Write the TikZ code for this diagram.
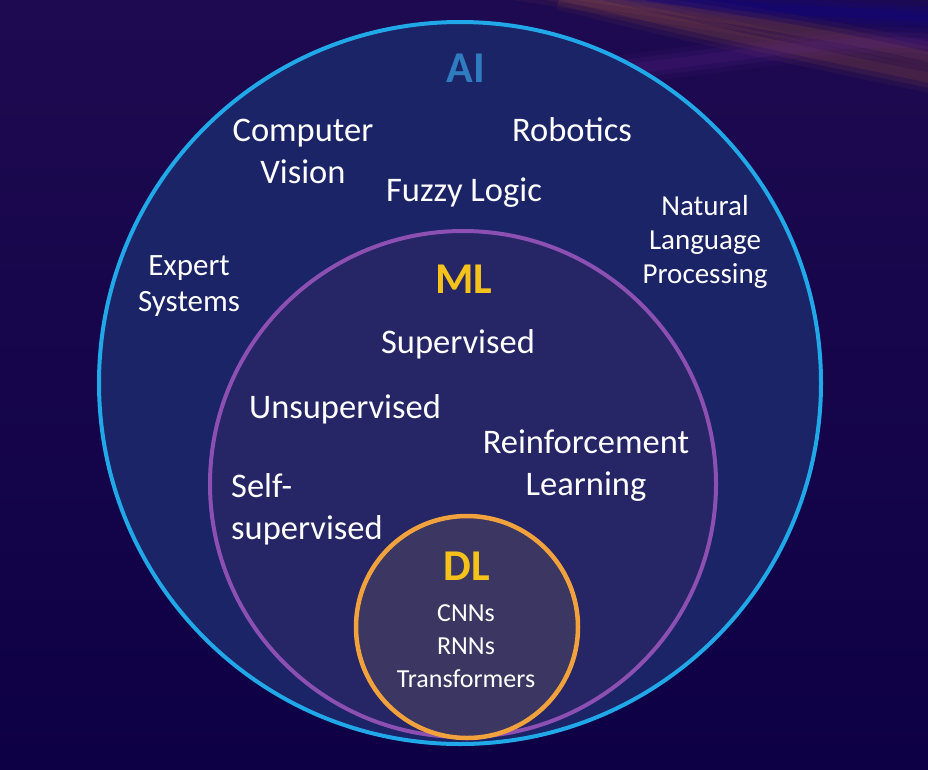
\documentclass[tikz,border=0pt]{standalone}
\usepackage{fontspec}
\setmainfont{Carlito}
\usetikzlibrary{calc}
\definecolor{bgtop}{HTML}{1E0A50}
\definecolor{bgbot}{HTML}{0E0045}
\definecolor{aistroke}{HTML}{20A8E8}
\definecolor{aifill}{HTML}{1B2466}
\definecolor{mlstroke}{HTML}{8C4FB2}
\definecolor{mlfill}{HTML}{262566}
\definecolor{dlstroke}{HTML}{F2A23C}
\definecolor{dlfill}{HTML}{3B3662}
\definecolor{aitext}{HTML}{2F7CC0}
\definecolor{ylw}{HTML}{F5C21B}
\definecolor{streakO}{HTML}{B0603A}
\definecolor{streakP}{HTML}{6A2A9A}
\tikzset{
  lbl/.style={text=white, align=center, inner sep=0pt, font=\fontsize{34.5}{42}\selectfont},
  lblsmall/.style={text=white, align=center, inner sep=0pt, font=\fontsize{29}{34}\selectfont},
  lblexp/.style={text=white, align=center, inner sep=0pt, font=\fontsize{31}{36}\selectfont},
  lbltiny/.style={text=white, align=center, inner sep=0pt, font=\fontsize{26}{33}\selectfont},
  head/.style={inner sep=0pt, font=\bfseries\fontsize{44}{44}\selectfont},
  ring/.style={circle, inner sep=0pt},
}
\begin{document}
\begin{tikzpicture}[x=1pt,y=-1pt]
\useasboundingbox (0,0) rectangle (928,769);
% background
\shade[top color=bgtop, bottom color=bgbot] (0,0) rectangle (928,769);
% streaks top right
\begin{scope}
\clip (0,0) rectangle (928,769);
\foreach \w/\o in {30/0.07,20/0.10,10/0.14}{
  \draw[streakO, line width=\w pt, opacity=\o] (420,-30) .. controls (600,0) and (800,25) .. (940,60);
  \draw[streakO, line width=\w pt, opacity=\o] (560,-5) .. controls (700,30) and (820,55) .. (940,80);
  \draw[streakP, line width=\w pt, opacity=\o] (620,70) .. controls (750,55) and (850,35) .. (940,45);
  \draw[blue!70!black, line width=\w pt, opacity=\o] (520,-20) .. controls (700,10) and (830,10) .. (940,18);
}
\end{scope}
% circles
\node[ring, draw=aistroke, fill=aifill, line width=4pt, minimum size=722pt] (ai) at (460,383) {};
\node[ring, draw=mlstroke, fill=mlfill, line width=4pt, minimum size=506pt] (ml) at (463,484) {};
\node[ring, draw=dlstroke, fill=dlfill, line width=4.5pt, minimum size=222pt] (dl) at (467,627) {};
% headings
\node[head, text=aitext] (tai) at (466,68) {AI};
\node[head, text=ylw] (tml) at (464,279) {ML};
\node[head, text=ylw] (tdl) at (467,566) {DL};
% AI labels
\node[lbl] (cv) at (303,151) {Computer\\Vision};
\node[lbl] (rob) at (572,130) {Robotics};
\node[lbl] (fuz) at (464,193) {Fuzzy Logic};
\node[lblsmall] (nlp) at (705,242) {Natural\\Language\\Processing};
\node[lblexp] (exp) at (189,286) {Expert\\Systems};
% ML labels
\node[lbl] (sup) at (458,344) {Supervised};
\node[lbl] (uns) at (345,409) {Unsupervised};
\node[lbl] (rl) at (586,466) {Reinforcement\\Learning};
\node[lbl, align=left, anchor=west] (ss) at (231,509) {Self-\\supervised};
% DL labels
\node[lbltiny] (dll) at (466,646) {CNNs\\RNNs\\Transformers};
\end{tikzpicture}
\end{document}
